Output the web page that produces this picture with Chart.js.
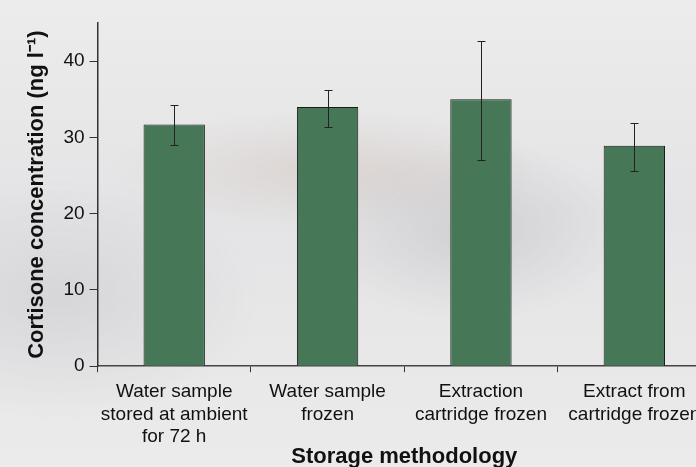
<!DOCTYPE html>
<html>
<head>
<meta charset="utf-8">
<script src="https://cdn.jsdelivr.net/npm/chart.js@4"></script>
<style>
  html, body { margin: 0; padding: 0; overflow: hidden; }
  body {
    width: 696px; height: 467px;
    background:
      radial-gradient(ellipse 220px 60px at 330px 170px, rgba(200,180,170,0.35), transparent),
      radial-gradient(ellipse 160px 90px at 470px 230px, rgba(170,170,175,0.35), transparent),
      radial-gradient(ellipse 200px 120px at 60px 300px, rgba(190,190,195,0.4), transparent),
      linear-gradient(180deg, #ececec 0%, #e4e4e6 45%, #ebebeb 100%);
  }
  #wrap { position: absolute; left: 0; top: 0; width: 720px; height: 467px; }
</style>
</head>
<body>
<div id="wrap"><canvas id="chart"></canvas></div>
<script>
const categories = [
  ["Water sample", "stored at ambient", "for 72 h"],
  ["Water sample", "frozen"],
  ["Extraction", "cartridge frozen"],
  ["Extract from", "cartridge frozen"]
];
const means = [31.7, 34.0, 35.0, 28.9];
const errLow = [29.0, 31.4, 27.1, 25.6];
const errHigh = [34.2, 36.2, 42.7, 31.9];
const yTicks = [0, 10, 20, 30, 40];

const font = "Liberation Sans, Arial, sans-serif";

// draws the error bars on top of the bars
const errorBars = {
  id: "errorBars",
  afterDatasetsDraw(chart) {
    const ctx = chart.ctx;
    const x = chart.scales.x, y = chart.scales.y;
    ctx.save();
    ctx.strokeStyle = "#222";
    ctx.lineWidth = 1;
    for (let i = 0; i < means.length; i++) {
      const cx = Math.round(x.getPixelForValue(i)) + 0.5;
      const top = Math.round(y.getPixelForValue(errHigh[i])) + 0.5;
      const bot = Math.round(y.getPixelForValue(errLow[i])) + 0.5;
      ctx.beginPath();
      ctx.moveTo(cx, top); ctx.lineTo(cx, bot);
      ctx.moveTo(cx - 4, top); ctx.lineTo(cx + 4, top);
      ctx.moveTo(cx - 4, bot); ctx.lineTo(cx + 4, bot);
      ctx.stroke();
    }
    ctx.restore();
  }
};

new Chart(document.getElementById("chart"), {
  type: "bar",
  data: {
    labels: categories,
    datasets: [{
      data: means,
      backgroundColor: "#467858",
      borderColor: "#1a1a1a",
      borderWidth: 1,
      barPercentage: 0.4,
      categoryPercentage: 1
    }]
  },
  options: {
    responsive: true,
    maintainAspectRatio: false,
    animation: false,
    layout: { padding: { top: 23, right: 9, left: 24, bottom: 0 } },
    plugins: { legend: { display: false }, tooltip: { enabled: false } },
    scales: {
      x: {
        offset: true,
        grid: { offset: true, drawOnChartArea: false, drawTicks: true, tickLength: 6, color: "#333" },
        border: { color: "#444", width: 1.5 },
        ticks: {
          color: "#111",
          font: { family: font, size: 19, lineHeight: 1.2 },
          maxRotation: 0,
          autoSkip: false,
          padding: 8
        },
        title: {
          display: true,
          text: "Storage methodology",
          color: "#111",
          font: { family: font, size: 22, weight: "bold" },
          padding: { top: -13, bottom: -3 }
        }
      },
      y: {
        min: 0,
        max: 45,
        afterBuildTicks(axis) { axis.ticks = yTicks.map(v => ({ value: v })); },
        grid: { drawOnChartArea: false, drawTicks: true, tickLength: 8, color: "#333" },
        border: { color: "#333", width: 1.5 },
        ticks: {
          color: "#111",
          font: { family: font, size: 19 },
          padding: 5
        },
        title: {
          display: true,
          text: "Cortisone concentration (ng l\u207B\u00B9)",
          color: "#111",
          font: { family: font, size: 22, weight: "bold" },
          padding: { top: 0, bottom: 8 }
        }
      }
    }
  },
  plugins: [errorBars]
});
</script>
</body>
</html>
